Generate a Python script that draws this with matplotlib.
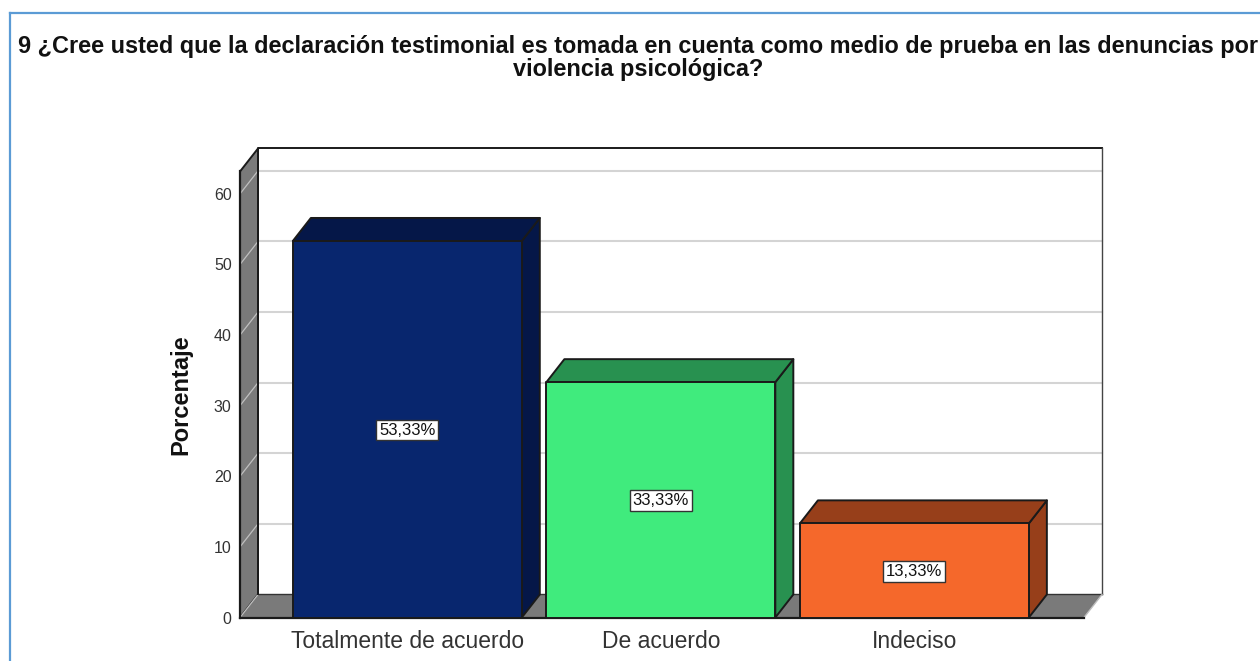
import matplotlib
matplotlib.use("Agg")
import matplotlib.pyplot as plt
from matplotlib.patches import Polygon
from matplotlib.lines import Line2D

plt.rcParams['font.family'] = ['Liberation Sans', 'DejaVu Sans']

title_line1 = "9 ¿Cree usted que la declaración testimonial es tomada en cuenta como medio de prueba en las denuncias por"
title_line2 = "violencia psicológica?"
y_label = "Porcentaje"
categories = ["Totalmente de acuerdo", "De acuerdo", "Indeciso"]
values = [53.33, 33.33, 13.33]
value_labels = ["53,33%", "33,33%", "13,33%"]
front_colors = ["#08266E", "#40EB7D", "#F5682B"]
shade_colors = ["#051748", "#289150", "#973F1A"]
y_ticks = [0, 10, 20, 30, 40, 50, 60]

W, H = 1260, 661
fig = plt.figure(figsize=(W / 100, H / 100), dpi=100, facecolor="white")
ax = fig.add_axes([240 / W, (H - 617.5) / H, 844 / W, 446 / H])
ax.set_xlim(-0.66, 2.669)
ax.set_ylim(0, 63.17)
ax.axis("off")

DX = 0.071   # depth in category units
DY = 3.26    # depth in value units
BW = 0.903
XL, XR = ax.get_xlim()
YT = ax.get_ylim()[1]
EDGE = "#1a1a1a"


def poly(pts, fc, ec=EDGE, lw=1.4, z=2):
    ax.add_patch(Polygon(pts, closed=True, facecolor=fc, edgecolor=ec, linewidth=lw,
                         joinstyle="round", zorder=z, clip_on=False))


# left wall and floor
poly([(XL, 0), (XL + DX, DY), (XL + DX, YT + DY), (XL, YT)], "#7a7a7a", z=1.5)
poly([(XL, 0), (XR, 0), (XR + DX, DY), (XL + DX, DY)], "#7a7a7a", ec="none", lw=0, z=1.5)

for t in y_ticks[1:]:
    ax.plot([XL + DX, XR + DX], [t + DY, t + DY], color="#d4d4d4", lw=1.5, zorder=1.2, clip_on=False)
    ax.plot([XL, XL + DX], [t, t + DY], color="#c0c0c0", lw=0.9, zorder=1.6, clip_on=False)
ax.plot([XL, XL + DX], [0, DY], color="#c0c0c0", lw=0.9, zorder=1.6, clip_on=False)

# frame lines
ax.plot([XL + DX, XL + DX, XR + DX], [DY, YT + DY, YT + DY], color=EDGE, lw=1.4, zorder=1.7, clip_on=False)
ax.plot([XR + DX, XR + DX], [DY, YT + DY], color="#444444", lw=1.0, zorder=1.7, clip_on=False)
ax.plot([XL + DX, XR + DX], [DY, DY], color="#333333", lw=1.0, zorder=1.55, clip_on=False)
ax.plot([XR, XR + DX], [0, DY], color="#bdbdbd", lw=1.0, zorder=1.7, clip_on=False)
ax.plot([XL, XL], [0, YT], color=EDGE, lw=1.6, zorder=1.7, clip_on=False)
ax.plot([XL, XR], [0, 0], color=EDGE, lw=1.6, zorder=1.7, clip_on=False)

# 3D bars
for i, (v, fc, sc, lab) in enumerate(zip(values, front_colors, shade_colors, value_labels)):
    l, r = i - BW / 2, i + BW / 2
    poly([(r, 0), (r + DX, DY), (r + DX, v + DY), (r, v)], sc, z=3)
    poly([(l, v), (r, v), (r + DX, v + DY), (l + DX, v + DY)], sc, z=3)
    poly([(l, 0), (r, 0), (r, v), (l, v)], fc, z=4)
    ax.text(i, v / 2 + 0.1, lab, ha="center", va="center_baseline", fontsize=12, color="#111111", zorder=6,
            bbox=dict(boxstyle="square,pad=0.17", facecolor="white", edgecolor="#333333", linewidth=1.0))

# axis text
for t in y_ticks:
    ax.text(XL - 0.033, t, str(t), ha="right", va="center_baseline", fontsize=11.5, color="#333333", clip_on=False)
for i, c in enumerate(categories):
    ax.text(i, -4.3, c, ha="center", va="baseline", fontsize=16.5, color="#333333", clip_on=False)

fig.text(181 / W, 1 - 395 / H, y_label, rotation=90, ha="center", va="center",
         fontsize=17, fontweight="bold", color="#111111")
fig.text(638 / W, 1 - 53 / H, title_line1, ha="center", va="baseline", fontsize=16.9,
         fontweight="bold", color="#111111")
fig.text(638 / W, 1 - 76 / H, title_line2, ha="center", va="baseline", fontsize=16.9,
         fontweight="bold", color="#111111")

# outer blue frame
fig.add_artist(Line2D([10 / W, 10 / W], [0, 1 - 12.5 / H], transform=fig.transFigure, color="#5B9BD5", lw=1.6))
fig.add_artist(Line2D([10 / W, 1], [1 - 12.5 / H, 1 - 12.5 / H], transform=fig.transFigure, color="#5B9BD5", lw=1.6))

fig.savefig("out.png", dpi=100)
